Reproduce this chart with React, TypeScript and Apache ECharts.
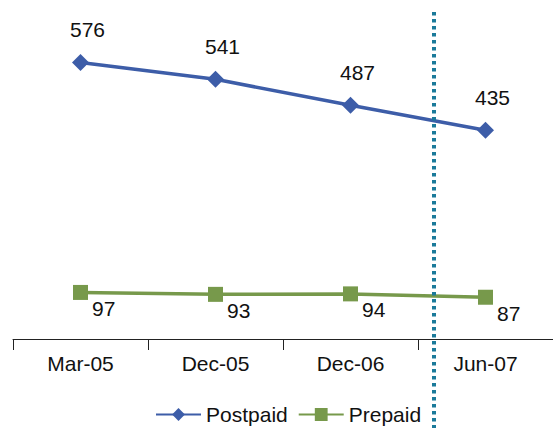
import React, { useEffect, useRef } from "react";
import * as echarts from "echarts";

const categories = ["Mar-05", "Dec-05", "Dec-06", "Jun-07"];
const postpaid = [576, 541, 487, 435];
const prepaid = [97, 93, 94, 87];
const dividerPosition = 2.62; // category index where the dotted divider sits

const FONT = "'Liberation Sans', Arial, sans-serif";
const FS = 21;

export default function App() {
  const ref = useRef<HTMLDivElement>(null);
  useEffect(() => {
    if (!ref.current) return;
    const chart = echarts.init(ref.current, undefined, { renderer: "svg" });
    const option: any = {
      animation: false,
      backgroundColor: "#ffffff",
      textStyle: { fontFamily: FONT },
      grid: { left: 13, top: 3, width: 548, height: 336, containLabel: false },
      legend: {
        left: 150,
        top: 399,
        itemWidth: 45,
        itemHeight: 16,
        itemGap: 10,
        textStyle: { fontFamily: FONT, fontSize: FS, color: "#111" },
        data: ["Postpaid", "Prepaid"],
      },
      xAxis: {
        type: "category",
        data: categories,
        boundaryGap: true,
        axisLine: { lineStyle: { color: "#222", width: 1 } },
        axisTick: { show: true, length: 11, lineStyle: { color: "#222" } },
        axisLabel: { fontFamily: FONT, fontSize: FS, color: "#111", margin: 14 },
      },
      yAxis: {
        type: "value",
        min: 0,
        max: 700,
        show: false,
        splitLine: { show: false },
      },
      series: [
        {
          name: "Postpaid",
          type: "line",
          data: postpaid,
          symbol: "diamond",
          symbolSize: 17,
          lineStyle: { color: "#3D5DA8", width: 3.5 },
          itemStyle: { color: "#3D5DA8" },
          label: {
            show: true,
            position: "top",
            offset: [7, -9],
            fontFamily: FONT,
            fontSize: FS,
            color: "#111",
          },
        },
        {
          name: "Prepaid",
          type: "line",
          data: prepaid,
          symbol: "rect",
          symbolSize: 15,
          lineStyle: { color: "#77994B", width: 3.5 },
          itemStyle: { color: "#77994B" },
          label: {
            show: true,
            position: "right",
            offset: [-1, 16],
            fontFamily: FONT,
            fontSize: FS,
            color: "#111",
          },
        },
      ],
    };
    chart.setOption(option);
    const x0 = chart.convertToPixel({ xAxisIndex: 0 }, 2) as number;
    const x1 = chart.convertToPixel({ xAxisIndex: 0 }, 3) as number;
    const xd = Math.round(x0 + (x1 - x0) * (dividerPosition - 2));
    chart.setOption({
      graphic: [
        {
          type: "line",
          shape: { x1: xd, y1: 12, x2: xd, y2: 428 },
          style: { stroke: "#1B7A9A", lineWidth: 4, lineDash: [3.5, 3.5] },
          z: 10,
        },
      ],
    });
    return () => chart.dispose();
  }, []);
  return <div ref={ref} style={{ width: 553, height: 428, position: "absolute", left: 0, top: 0 }} />;
}
